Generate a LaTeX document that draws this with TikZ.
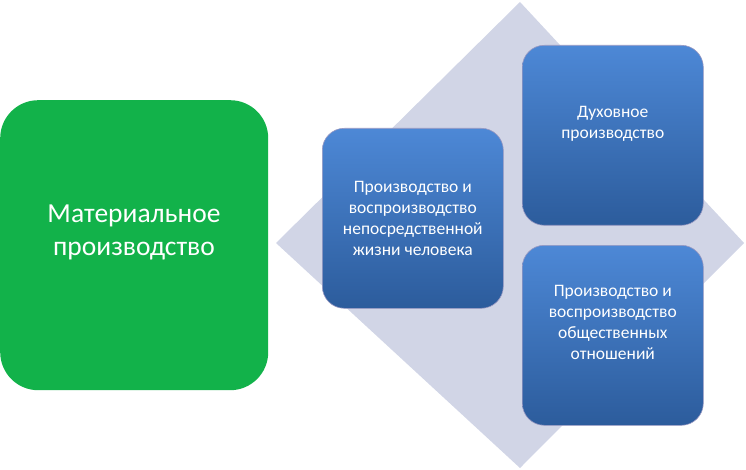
\documentclass[tikz,border=0pt]{standalone}
\usepackage{fontspec}
\setmainfont{Carlito}
\begin{document}
\begin{tikzpicture}[x=1pt,y=-1pt,
  bluebox/.style={rounded corners=22pt, draw=blue!40!black!40, line width=0.6pt, minimum width=181pt, minimum height=180pt, text=white, align=center, font=\fontsize{17.5}{21}\selectfont, anchor=north west, inner sep=0pt}]
\useasboundingbox (0,0) rectangle (746,470);
\definecolor{mygreen}{HTML}{12B24A}
\definecolor{diam}{HTML}{D1D5E6}
\definecolor{btop}{HTML}{4D88D6}
\definecolor{bbot}{HTML}{2C5C9C}
\tikzset{bluebox/.append style={top color=btop, bottom color=bbot}}
\fill[diam] (520,2) -- (744,243) -- (520,468) -- (276,243) -- cycle;
\node[fill=mygreen, rounded corners=38pt, minimum width=268pt, minimum height=290pt, anchor=north west, inner sep=0pt] (g) at (0,100) {};
\node[text=white, align=center, font=\fontsize{27.5}{33}\selectfont] (gt) at (134,232) {Материальное\\производство};
\node[bluebox] (b1) at (322,128) {Производство и\\воспроизводство\\непосредственной\\жизни человека};
\node[bluebox] (b2) at (522,45) {Духовное\\производство\\[4pt]};
\node[bluebox] (b3) at (522,245) {Производство и\\воспроизводство\\общественных\\отношений\\[4pt]};
\end{tikzpicture}
\end{document}
